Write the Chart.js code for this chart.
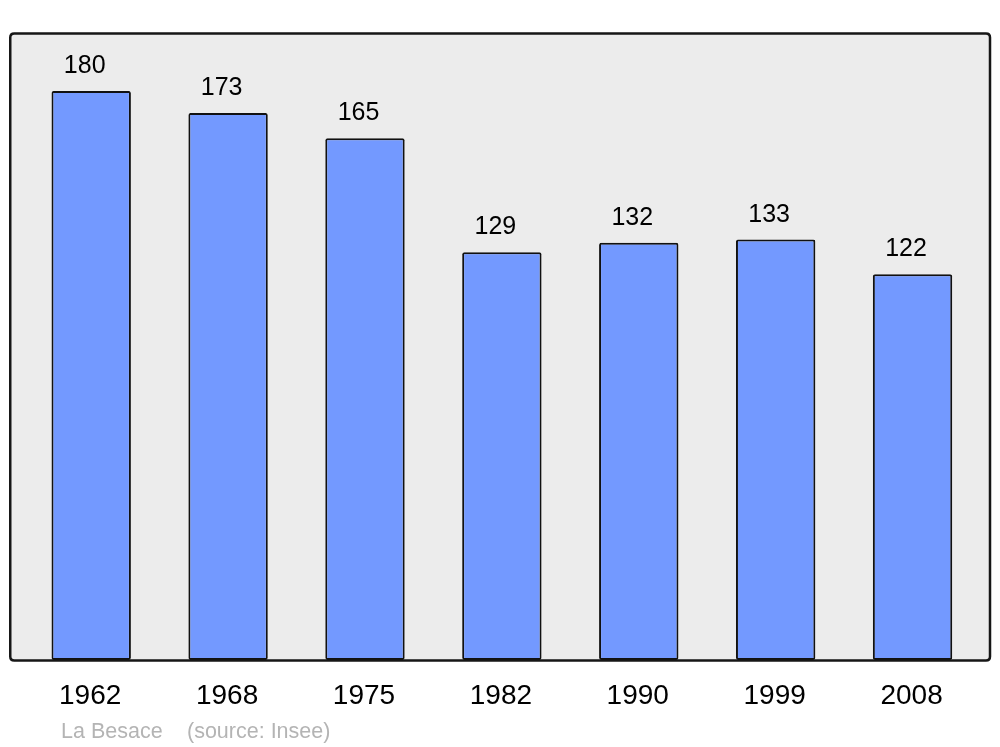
<!DOCTYPE html>
<html>
<head>
<meta charset="utf-8">
<script src="https://cdn.jsdelivr.net/npm/chart.js@4/dist/chart.umd.min.js"></script>
<style>
  html, body { margin: 0; padding: 0; background: #fff; }
  #wrap { width: 1000px; height: 747px; position: relative; }
</style>
</head>
<body>
<div id="wrap"><canvas id="popChart" width="1000" height="747"></canvas></div>
<script>
// population data
const years = ["1962", "1968", "1975", "1982", "1990", "1999", "2008"];
const population = [180, 173, 165, 129, 132, 133, 122];
const yMax = 198;
const townName = "La Besace";
const sourceText = "(source: Insee)";

function roundRect(ctx, x, y, w, h, r) {
  ctx.beginPath();
  ctx.moveTo(x + r, y);
  ctx.lineTo(x + w - r, y);
  ctx.quadraticCurveTo(x + w, y, x + w, y + r);
  ctx.lineTo(x + w, y + h - r);
  ctx.quadraticCurveTo(x + w, y + h, x + w - r, y + h);
  ctx.lineTo(x + r, y + h);
  ctx.quadraticCurveTo(x, y + h, x, y + h - r);
  ctx.lineTo(x, y + r);
  ctx.quadraticCurveTo(x, y, x + r, y);
  ctx.closePath();
}

const framePlugin = {
  id: 'frame',
  beforeDatasetsDraw(chart) {
    const a = chart.chartArea;
    const ctx = chart.ctx;
    ctx.save();
    roundRect(ctx, a.left - 12.5, a.top - 0.5, a.right - a.left + 21.5, a.bottom - a.top + 1, 4);
    ctx.fillStyle = '#ececec';
    ctx.fill();
    ctx.restore();
  },
  afterDatasetsDraw(chart) {
    const a = chart.chartArea;
    const ctx = chart.ctx;
    const meta = chart.getDatasetMeta(0);
    ctx.save();
    roundRect(ctx, a.left - 12.5, a.top - 0.5, a.right - a.left + 21.5, a.bottom - a.top + 1, 4);
    ctx.strokeStyle = '#161616';
    ctx.lineWidth = 2.5;
    ctx.stroke();

    ctx.fillStyle = '#000';
    ctx.textAlign = 'center';
    ctx.textBaseline = 'alphabetic';
    ctx.font = '25px "Liberation Sans", Arial, sans-serif';
    meta.data.forEach((bar, i) => {
      ctx.fillText(String(population[i]), bar.x - 6.5, bar.y - 18);
    });

    ctx.font = '28px "Liberation Sans", Arial, sans-serif';
    meta.data.forEach((bar, i) => {
      ctx.fillText(years[i], bar.x - 1, a.bottom + 44);
    });

    ctx.textAlign = 'left';
    ctx.fillStyle = '#b4b4b4';
    ctx.font = '21.5px "Liberation Sans", Arial, sans-serif';
    ctx.fillText(townName, 61, 738);
    ctx.fillText(sourceText, 187, 738);
    ctx.restore();
  }
};

new Chart(document.getElementById('popChart'), {
  type: 'bar',
  data: {
    labels: years,
    datasets: [{
      data: population,
      backgroundColor: '#7399ff',
      borderColor: '#111',
      borderWidth: 2,
      borderRadius: 2,
      borderSkipped: false,
      categoryPercentage: 1,
      barPercentage: 0.58
    }]
  },
  options: {
    responsive: false,
    animation: false,
    events: [],
    layout: { padding: { left: 22.75, right: 19, top: 34, bottom: 87 } },
    plugins: { legend: { display: false }, tooltip: { enabled: false } },
    scales: {
      x: { display: false },
      y: { display: false, min: 0, max: yMax }
    }
  },
  plugins: [framePlugin]
});
</script>
</body>
</html>
